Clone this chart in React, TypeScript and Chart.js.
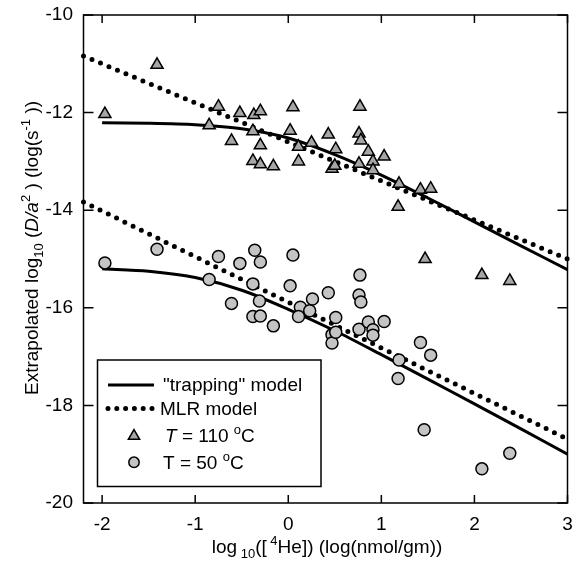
import React, { useEffect, useRef } from "react";
import { Chart, registerables } from "chart.js";

Chart.register(...registerables);

const FONT = '"Liberation Sans", Arial, Helvetica, sans-serif';

const xTickValues = [-2, -1, 0, 1, 2, 3];
const yTickValues = [-20, -18, -16, -14, -12, -10];

// T = 110 °C samples (triangles)
const tri110X = [-1.97, -1.41, -0.85, -0.75, -0.61, -0.52, -0.37, -0.30, -0.38, -0.30, -0.38, -0.30, -0.16, 0.05, 0.02, 0.11, 0.11, 0.25, 0.43, 0.51, 0.47, 0.50, 0.77, 0.76, 0.78, 0.86, 0.76, 0.91, 1.03, 0.91, 1.19, 1.18, 1.42, 1.53, 1.47, 2.08, 2.38];
const tri110Y = [-12.03, -11.02, -12.26, -11.88, -12.58, -12.01, -12.05, -11.97, -12.38, -12.67, -12.99, -13.06, -13.10, -11.89, -12.37, -12.70, -13.00, -12.62, -12.45, -12.75, -13.15, -13.09, -11.88, -12.43, -12.57, -12.80, -13.05, -13.00, -12.90, -13.18, -13.46, -13.93, -13.58, -13.56, -15.00, -15.33, -15.45];

// T = 50 °C samples (circles)
const circ50X = [-1.97, -1.41, -0.85, -0.75, -0.61, -0.52, -0.36, -0.30, -0.38, -0.31, -0.38, -0.30, -0.16, 0.05, 0.02, 0.13, 0.11, 0.23, 0.26, 0.43, 0.51, 0.47, 0.47, 0.51, 0.77, 0.76, 0.78, 0.76, 0.86, 0.91, 0.91, 1.03, 1.19, 1.18, 1.42, 1.53, 1.46, 2.08, 2.38];
const circ50Y = [-15.08, -14.80, -15.42, -14.95, -15.91, -15.09, -14.82, -15.06, -15.51, -15.86, -16.18, -16.17, -16.37, -14.92, -15.55, -15.99, -16.18, -16.06, -15.82, -15.69, -16.20, -16.55, -16.72, -16.50, -15.33, -15.74, -15.88, -16.44, -16.29, -16.45, -16.56, -16.28, -17.07, -17.45, -16.71, -16.97, -18.50, -19.30, -18.98];

// "trapping" model curves
const trapX = [-2, -1.5, -1, -0.5, 0, 0.5, 1, 1.5, 2, 2.5, 3];
const trap110Y = [-12.21, -12.22, -12.25, -12.33, -12.52, -12.86, -13.28, -13.75, -14.24, -14.73, -15.22];
const trap50Y = [-15.20, -15.25, -15.38, -15.64, -16.03, -16.47, -16.96, -17.46, -17.97, -18.48, -19.0];

// MLR model lines
const mlrX = [-2.2, 3];
const mlr110Y = [-10.84, -15.0];
const mlr50Y = [-13.83, -18.69];

const toPts = (xs: number[], ys: number[]) => xs.map((x, i) => ({ x, y: ys[i] }));

type Part = { t: string; size?: number; italic?: boolean; dy?: number };

function setFont(ctx: CanvasRenderingContext2D, p: Part) {
  ctx.font = `${p.italic ? "italic " : ""}${p.size ?? 19}px ${FONT}`;
}
function richWidth(ctx: CanvasRenderingContext2D, parts: Part[]) {
  let w = 0;
  for (const p of parts) {
    setFont(ctx, p);
    w += ctx.measureText(p.t).width;
  }
  return w;
}
function drawRich(ctx: CanvasRenderingContext2D, parts: Part[], x: number, y: number) {
  let cx = x;
  for (const p of parts) {
    setFont(ctx, p);
    ctx.fillText(p.t, cx, y + (p.dy ?? 0));
    cx += ctx.measureText(p.t).width;
  }
}

function drawTri(ctx: CanvasRenderingContext2D, x: number, y: number, r: number, fill: string) {
  ctx.beginPath();
  ctx.moveTo(x, y - r);
  ctx.lineTo(x + r * Math.sin((2 * Math.PI) / 3), y + r / 2);
  ctx.lineTo(x - r * Math.sin((2 * Math.PI) / 3), y + r / 2);
  ctx.closePath();
  ctx.fillStyle = fill;
  ctx.fill();
  ctx.stroke();
}

const TRI_FILL = "#a6a6a6";
const CIRC_FILL = "#c4c4c4";

const decorPlugin = {
  id: "decor",
  afterDatasetsDraw(chart: any) {
    const { ctx, chartArea: a, scales } = chart;
    const xs = scales.x;
    const ys = scales.y;
    ctx.save();
    ctx.strokeStyle = "#000";
    ctx.lineWidth = 1.5;
    ctx.strokeRect(a.left, a.top, a.right - a.left, a.bottom - a.top);
    ctx.beginPath();
    xTickValues.forEach((v) => {
      const px = xs.getPixelForValue(v);
      ctx.moveTo(px, a.bottom);
      ctx.lineTo(px, a.bottom - 8);
      ctx.moveTo(px, a.top);
      ctx.lineTo(px, a.top + 8);
    });
    yTickValues.forEach((v) => {
      const py = ys.getPixelForValue(v);
      ctx.moveTo(a.left, py);
      ctx.lineTo(a.left + 10, py);
      ctx.moveTo(a.right, py);
      ctx.lineTo(a.right - 10, py);
    });
    ctx.stroke();

    ctx.fillStyle = "#000";
    ctx.textBaseline = "alphabetic";
    ctx.textAlign = "left";

    // x title
    const xParts: Part[] = [
      { t: "log" },
      { t: " 10", size: 13, dy: 5 },
      { t: "([" },
      { t: " 4", size: 13, dy: -8 },
      { t: "He]) (log(nmol/gm))" },
    ];
    const xw = richWidth(ctx, xParts);
    drawRich(ctx, xParts, 327 - xw / 2, 553);

    // y title
    const yParts: Part[] = [
      { t: "Extrapolated log" },
      { t: "10", size: 13, dy: 5 },
      { t: " (" },
      { t: "D/a", italic: true },
      { t: "2", size: 13, dy: -8 },
      { t: " ) (log(s" },
      { t: "-1", size: 13, dy: -8 },
      { t: " ))" },
    ];
    const yw = richWidth(ctx, yParts);
    ctx.save();
    ctx.translate(37.5, 248);
    ctx.rotate(-Math.PI / 2);
    drawRich(ctx, yParts, -yw / 2, 0);
    ctx.restore();

    // legend
    ctx.fillStyle = "#fff";
    ctx.fillRect(97.5, 360, 223.5, 126.5);
    ctx.strokeStyle = "#000";
    ctx.lineWidth = 1.5;
    ctx.strokeRect(97.5, 360, 223.5, 126.5);

    ctx.beginPath();
    ctx.lineWidth = 3;
    ctx.moveTo(108, 385);
    ctx.lineTo(154, 385);
    ctx.stroke();

    ctx.beginPath();
    ctx.lineWidth = 5;
    ctx.lineCap = "round";
    ctx.setLineDash([0, 8.8]);
    ctx.moveTo(108, 408.5);
    ctx.lineTo(153, 408.5);
    ctx.stroke();
    ctx.setLineDash([]);
    ctx.lineCap = "butt";

    ctx.lineWidth = 1.5;
    drawTri(ctx, 134, 436, 6.5, TRI_FILL);
    ctx.beginPath();
    ctx.arc(134, 462.3, 5.2, 0, Math.PI * 2);
    ctx.fillStyle = CIRC_FILL;
    ctx.fill();
    ctx.stroke();

    ctx.fillStyle = "#000";
    drawRich(ctx, [{ t: '"trapping" model' }], 163, 391);
    drawRich(ctx, [{ t: "MLR model" }], 160, 415);
    drawRich(ctx, [{ t: "T", italic: true }, { t: " = 110 " }, { t: "o", size: 13, dy: -8 }, { t: "C" }], 165, 442);
    drawRich(ctx, [{ t: "T = 50 " }, { t: "o", size: 13, dy: -8 }, { t: "C" }], 163, 468.5);

    ctx.restore();
  },
};

export default function App() {
  const ref = useRef<HTMLCanvasElement | null>(null);
  useEffect(() => {
    if (!ref.current) return;
    const tickFont = { family: FONT, size: 19 };
    const chart = new Chart(ref.current, {
      type: "scatter",
      data: {
        datasets: [
          {
            label: "T = 110 °C",
            data: toPts(tri110X, tri110Y),
            pointStyle: "triangle",
            pointRadius: 7,
            pointBackgroundColor: TRI_FILL,
            pointBorderColor: "#000",
            pointBorderWidth: 1.5,
            order: 0,
          },
          {
            label: "T = 50 °C",
            data: toPts(circ50X, circ50Y),
            pointStyle: "circle",
            pointRadius: 6,
            pointBackgroundColor: CIRC_FILL,
            pointBorderColor: "#000",
            pointBorderWidth: 1.5,
            order: 0,
          },
          {
            label: '"trapping" model 110',
            data: toPts(trapX, trap110Y),
            showLine: true,
            pointRadius: 0,
            borderColor: "#000",
            borderWidth: 3,
            tension: 0.3,
            order: 1,
          },
          {
            label: '"trapping" model 50',
            data: toPts(trapX, trap50Y),
            showLine: true,
            pointRadius: 0,
            borderColor: "#000",
            borderWidth: 3,
            tension: 0.3,
            order: 1,
          },
          {
            label: "MLR model 110",
            data: toPts(mlrX, mlr110Y),
            showLine: true,
            pointRadius: 0,
            borderColor: "#000",
            borderWidth: 5,
            borderDash: [0, 9.2],
            borderCapStyle: "round",
            clip: 4,
            order: 2,
          },
          {
            label: "MLR model 50",
            data: toPts(mlrX, mlr50Y),
            showLine: true,
            pointRadius: 0,
            borderColor: "#000",
            borderWidth: 5,
            borderDash: [0, 9.2],
            borderCapStyle: "round",
            clip: 4,
            order: 2,
          },
        ],
      } as any,
      options: {
        animation: false,
        responsive: false,
        layout: { padding: { left: 8, right: 4.5, top: 15, bottom: 15 } },
        plugins: { legend: { display: false }, tooltip: { enabled: false } },
        scales: {
          x: {
            type: "linear",
            min: -2.2,
            max: 3,
            grid: { display: false, drawTicks: true, tickLength: 10 },
            border: { display: false },
            ticks: { font: tickFont, color: "#000", padding: 0 },
            afterBuildTicks: (s: any) => {
              s.ticks = xTickValues.map((v) => ({ value: v }));
            },
            afterFit: (s: any) => {
              s.height = 50;
              s.paddingLeft = 0;
              s.paddingRight = 0;
            },
          },
          y: {
            type: "linear",
            min: -20,
            max: -10,
            grid: { display: false, drawTicks: true, tickLength: 10.5 },
            border: { display: false },
            ticks: { font: tickFont, color: "#000", padding: 0, stepSize: 2 },
            afterBuildTicks: (s: any) => {
              s.ticks = yTickValues.map((v) => ({ value: v }));
            },
            afterFit: (s: any) => {
              s.width = 75.5;
              s.paddingTop = 0;
              s.paddingBottom = 0;
            },
          },
        },
      } as any,
      plugins: [decorPlugin],
    });
    return () => chart.destroy();
  }, []);
  return (
    <canvas
      ref={ref}
      width={576}
      height={568}
      style={{ position: "fixed", left: 0, top: 0, width: 576, height: 568 }}
    />
  );
}
